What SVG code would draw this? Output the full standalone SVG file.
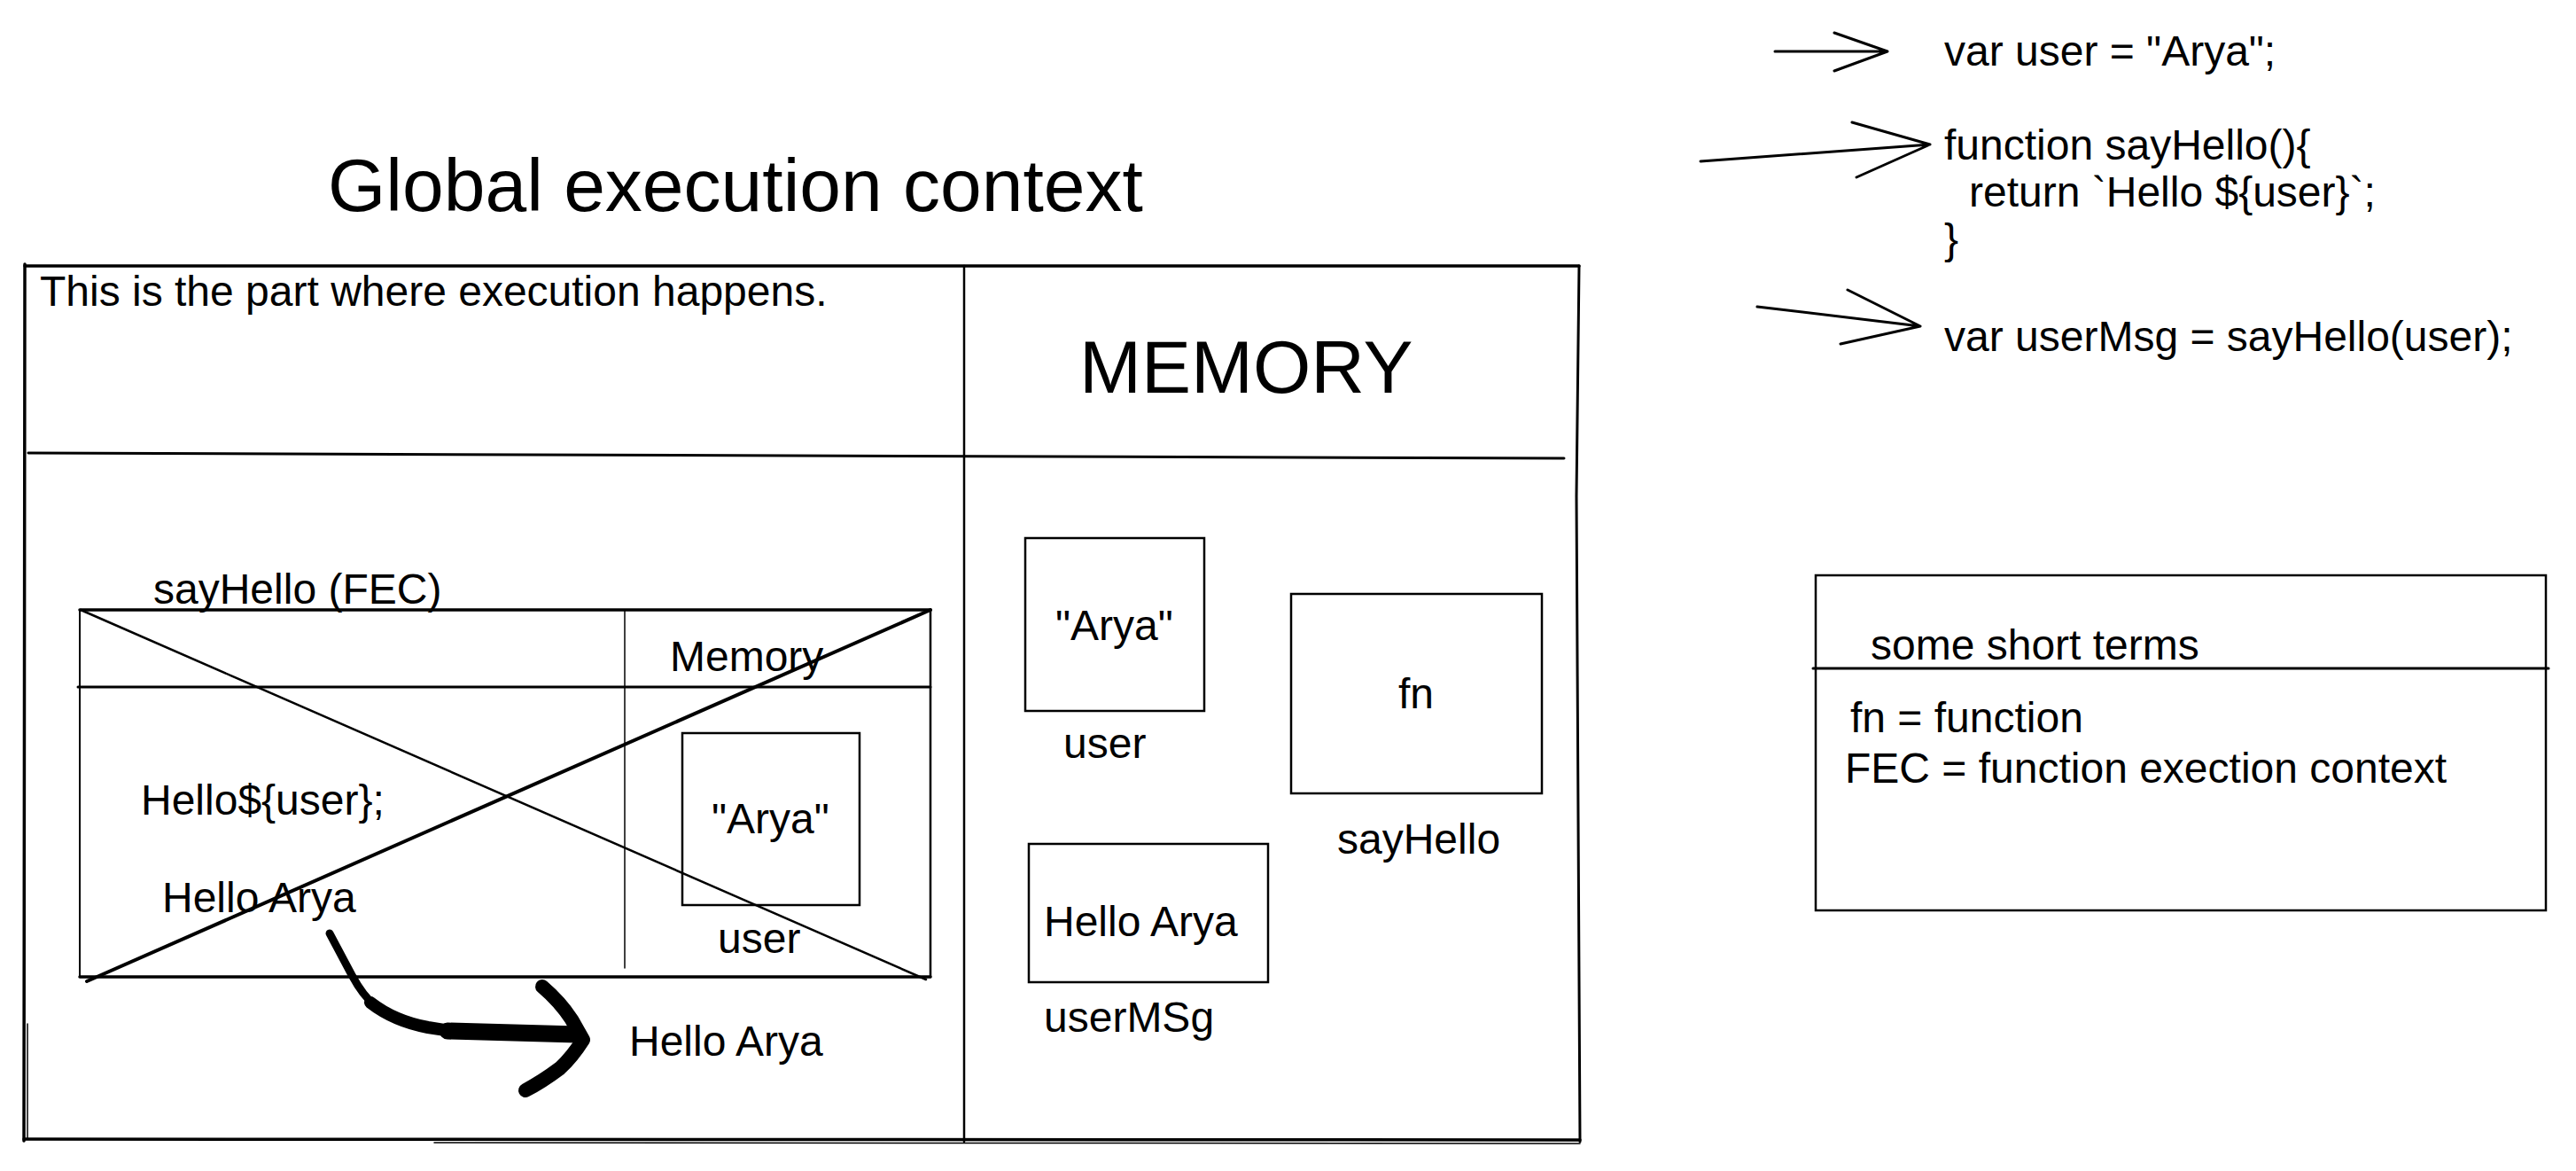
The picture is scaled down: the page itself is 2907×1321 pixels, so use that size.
<svg xmlns="http://www.w3.org/2000/svg" width="2907" height="1321" viewBox="0 0 2907 1321">
<style>
  text { font-family: "Liberation Sans", Arial, sans-serif; font-size: 48px; fill: #000; }
  .big { font-size: 84px; }
  .ln { stroke: #000; fill: none; stroke-linecap: round; }
  .box { stroke: #000; fill: none; stroke-width: 2.5; }
  .ink { stroke: #000; fill: none; stroke-linecap: round; stroke-linejoin: round; }
</style>
<rect x="0" y="0" width="2907" height="1321" fill="#fff"/>

<g id="title">
  <text class="big" x="370" y="238">Global execution context</text>
</g>

<g id="global-execution-context">
  <path class="ln" stroke-width="3.5" d="M28,300 L1782,300"/>
  <path class="ln" stroke-width="3.5" d="M28,298 L27,1287"/>
  <path class="ln" stroke-width="1.5" d="M31,1155 L31,1285"/>
  <path class="ln" stroke-width="3.5" d="M27,1285 L1783,1286"/>
  <path class="ln" stroke-width="1.5" d="M490,1289 L1783,1290"/>
  <path class="ln" stroke-width="3" d="M1782,300 L1779,560 L1783,1288"/>
  <path class="ln" stroke-width="3" d="M32,511 L1765,517"/>
  <path class="ln" stroke-width="2.5" d="M1088,300 L1088,1288"/>
  <text x="45" y="345">This is the part where execution happens.</text>
  <text class="big" x="1218" y="443" style="font-size:84px">MEMORY</text>
</g>

<g id="fec-sayHello">
  <text x="173" y="681">sayHello (FEC)</text>
  <path class="ln" stroke-width="3.5" d="M90,688 L1050,688"/>
  <path class="ln" stroke-width="2" d="M90,688 L90,1102"/>
  <path class="ln" stroke-width="2.5" d="M1050,688 L1050,1102"/>
  <path class="ln" stroke-width="3.5" d="M90,1102 L1050,1102"/>
  <path class="ln" stroke-width="3" d="M88,775 L1050,775"/>
  <path class="ln" stroke-width="1.5" d="M705,688 L705,1092"/>
  <text x="756" y="757">Memory</text>
  <rect class="box" x="770" y="827" width="200" height="194" stroke-width="3"/>
  <text x="803" y="940">"Arya"</text>
  <text x="810" y="1075">user</text>
  <text x="159" y="919">Hello${user};</text>
  <text x="183" y="1029">Hello Arya</text>
  <path class="ln" stroke-width="2.5" d="M91,688 L1045,1105"/>
  <path class="ln" stroke-width="4" d="M98,1107 L1050,688"/>
</g>

<g id="mem-user">
  <rect class="box" x="1157" y="607" width="202" height="195"/>
  <text x="1191" y="722">"Arya"</text>
  <text x="1200" y="855">user</text>
</g>

<g id="mem-sayHello">
  <rect class="box" x="1457" y="670" width="283" height="225"/>
  <text x="1578" y="799">fn</text>
  <text x="1509" y="963">sayHello</text>
</g>

<g id="mem-userMsg">
  <rect class="box" x="1161" y="952" width="270" height="156"/>
  <text x="1178" y="1056">Hello Arya</text>
  <text x="1178" y="1164">userMSg</text>
</g>

<g id="result">
  <text x="710" y="1191">Hello Arya</text>
</g>

<g id="code">
  <text x="2194" y="74">var user = "Arya";</text>
  <text x="2194" y="180">function sayHello(){</text>
  <text x="2222" y="233">return `Hello ${user}`;</text>
  <text x="2194" y="286">}</text>
  <text x="2194" y="396">var userMsg = sayHello(user);</text>
</g>

<g id="legend">
  <rect class="box" x="2049" y="649" width="824" height="378" stroke-width="3"/>
  <path class="ln" stroke-width="3" d="M2046,754 L2876,754"/>
  <text x="2111" y="744">some short terms</text>
  <text x="2088" y="826">fn = function</text>
  <text x="2082" y="883">FEC = function exection context</text>
</g>

<g id="connectors">
  <path class="ink" stroke-width="3" d="M2003,58 L2130,58 M2070,37 L2130,58 L2070,80"/>
  <path class="ink" stroke-width="3" d="M1919,182 L2178,163 M2090,138 L2178,163 L2095,200"/>
  <path class="ink" stroke-width="3" d="M1983,346 L2167,368 M2085,327 L2167,368 L2077,388"/>
  <path class="ink" stroke-width="9" d="M372,1053 L397,1100 Q410,1124 423,1134"/>
  <path class="ink" stroke-width="14" d="M418,1131 Q445,1152 483,1159 L515,1164"/>
  <path class="ink" stroke-width="19" d="M505,1163 L652,1167"/>
  <path class="ink" stroke-width="16" d="M612,1113 Q632,1130 645,1150 L658,1173 Q646,1192 632,1205 Q612,1220 593,1230"/>
</g>
</svg>
